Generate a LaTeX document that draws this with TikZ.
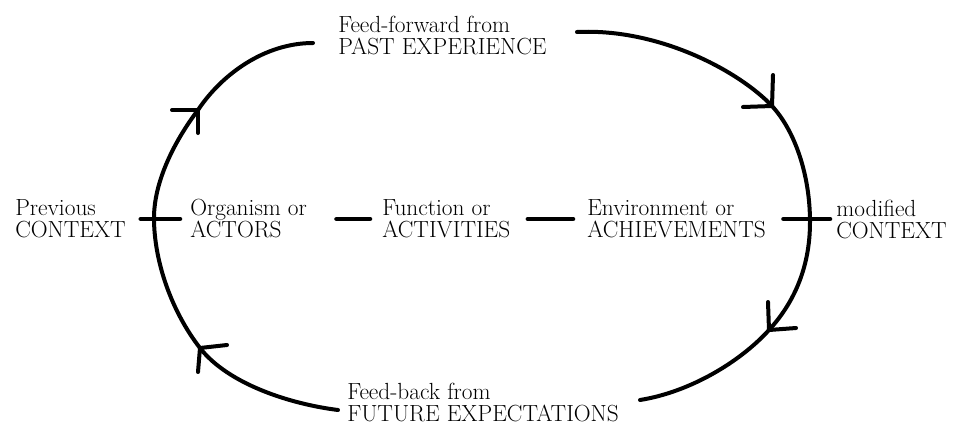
\documentclass[tikz,border=0pt]{standalone}
\usepackage{amsmath}
\usepackage{tikz}

\begin{document}
\begin{tikzpicture}[line cap=round,line join=round,x=0.75pt,y=-0.75pt,
  lbl/.style={inner sep=0pt,anchor=west,align=left,font=\fontsize{17.5pt}{16.5pt}\selectfont},
  loopline/.style={line width=3pt},
  barb/.style={line width=3pt},
  bar/.style={line width=3.4pt}]
\useasboundingbox (0,0) rectangle (961,425);
\node[lbl] (ff) at (338,35) {Feed-forward from\\PAST EXPERIENCE};
\node[lbl] (fb) at (347,402) {Feed-back from\\FUTURE EXPECTATIONS};
\node[lbl] (prev) at (15,219) {Previous\\CONTEXT};
\node[lbl] (org) at (190,219) {Organism or\\ACTORS};
\node[lbl] (func) at (382,219) {Function or\\ACTIVITIES};
\node[lbl] (env) at (587,219) {Environment or\\ACHIEVEMENTS};
\node[lbl] (mod) at (836,219) {modified\\CONTEXT};
\coordinate (lt) at (313,43);
\coordinate (lm) at (154,218);
\coordinate (lb) at (338,410);
\coordinate (rt) at (577,32);
\coordinate (rm) at (810,222);
\coordinate (rb) at (640,400);
\coordinate (a1) at (198,110);
\coordinate (a2) at (772,106);
\coordinate (a3) at (769,330);
\coordinate (a4) at (200,348);
\draw [loopline] (lt) .. controls (265,43) and (222,74) .. (a1)
  .. controls (176,139) and (154,180) .. (lm)
  .. controls (154,262) and (172,312) .. (a4)
  .. controls (228,384) and (290,404) .. (lb);
\draw [loopline] (rt) .. controls (660,28) and (740,72) .. (a2)
  .. controls (795,131) and (810,175) .. (rm)
  .. controls (810,270) and (792,305) .. (a3)
  .. controls (740,362) and (690,392) .. (rb);
\draw [barb] (a1)-- ++(-26,0);
\draw [barb] (a1)-- ++(0,23);
\draw [barb] (a2)-- ++(-29,1);
\draw [barb] (a2)-- ++(1,-31);
\draw [barb] (a3)-- ++(-1,-28);
\draw [barb] (a3)-- ++(27,-2);
\draw [barb] (a4)-- ++(27,-3);
\draw [barb] (a4)-- ++(-2,24);
\draw [bar,shorten <=11pt,shorten >=7.5pt] (prev)-- (org);
\draw [bar,shorten <=22pt,shorten >=9pt] (org)-- (func);
\draw [bar,shorten <=13pt,shorten >=10.5pt] (func)-- (env);
\draw [bar,shorten <=13pt,shorten >=4.5pt] (env)-- (mod);
\end{tikzpicture}
\end{document}
